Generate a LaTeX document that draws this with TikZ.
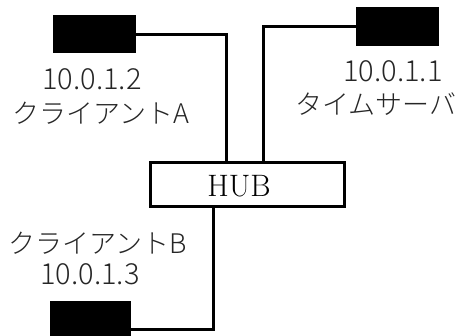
\documentclass[tikz,border=0pt]{standalone}
\usepackage{fontspec}
\newfontfamily\jp{Noto Sans CJK JP Light}[Scale=1]
\begin{document}
\begin{tikzpicture}[x=1pt,y=-1pt,
  pc/.style={draw=black,fill=black,line width=1pt,inner sep=0pt},
  wire/.style={line width=3pt,line join=miter},
  lbl/.style={inner sep=0pt,font=\jp\fontsize{27}{30}\selectfont,text=black!85},
  ip/.style={inner sep=0pt,font=\jp\fontsize{29}{32}\selectfont,text=black!85}]
\useasboundingbox[fill=white] (0,0) rectangle (472,336);
\node[pc,minimum width=82pt,minimum height=37pt] (boxA) at (94,34.5) {};
\node[pc,minimum width=82pt,minimum height=38pt] (boxT) at (397,27) {};
\node[pc,minimum width=80pt,minimum height=56pt] (boxB) at (90,330) {};
\node[draw=black,line width=3pt,minimum width=194pt,minimum height=44pt,inner sep=0pt] (hub) at (247,185) {};
\node[inner sep=0pt,font=\fontsize{31}{33}\selectfont] (hubtxt) at (239,186) {HUB};
\coordinate (hA) at (226,163);
\coordinate (hT) at (263,163);
\coordinate (hB) at (213,207);
\draw[wire] (boxA.east) -| (hA);
\draw[wire] (boxT.west) -| (hT);
\draw[wire] (hB) |- (boxB.east);
\node[ip] (ipA) at (92,79) {10.0.1.2};
\node[lbl] (nmA) at (101,113) {クライアントA};
\node[ip] (ipT) at (393,71) {10.0.1.1};
\node[lbl] (nmT) at (376,104) {タイムサーバ};
\node[lbl] (nmB) at (98,243) {クライアントB};
\node[ip] (ipB) at (90,274) {10.0.1.3};
\end{tikzpicture}
\end{document}
